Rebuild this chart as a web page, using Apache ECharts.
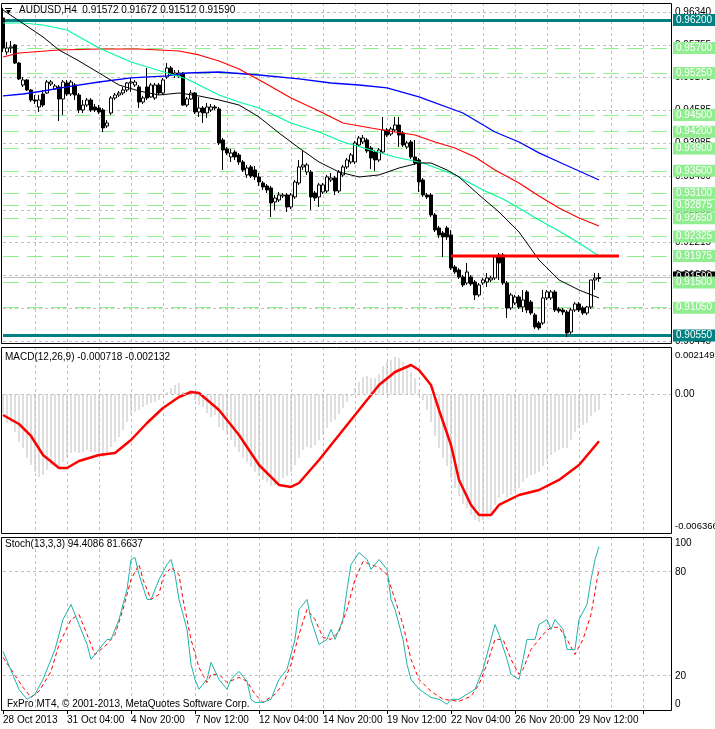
<!DOCTYPE html>
<html><head><meta charset="utf-8">
<script src="https://cdn.jsdelivr.net/npm/echarts@6.0.0/dist/echarts.min.js"></script>
<style>html,body{margin:0;padding:0;background:#fff;}#c{width:715px;height:729px;}</style>
</head><body><div id="c"></div>
<script>
const tickLabels = ['28 Oct 2013','31 Oct 04:00','4 Nov 20:00','7 Nov 12:00','12 Nov 04:00','14 Nov 20:00','19 Nov 12:00','22 Nov 04:00','26 Nov 20:00','29 Nov 12:00'];

const open = [0.96236,0.95627,0.95699,0.95753,0.95430,0.95036,0.95126,0.94947,0.94768,0.94643,
0.94875,0.94893,0.95054,0.94965,0.95001,0.94786,0.95072,0.94875,0.95036,0.94857,
0.94589,0.94678,0.94768,0.94643,0.94625,0.94589,0.94303,0.94535,0.94804,0.94857,
0.94893,0.94947,0.95072,0.95036,0.95001,0.94732,0.95001,0.94822,0.94804,0.95036,
0.94893,0.95180,0.95341,0.95215,0.95198,0.95251,0.94678,0.94786,0.94893,0.94553,
0.94625,0.94535,0.94589,0.94643,0.94607,0.94052,0.93891,0.93748,0.93837,0.93784,
0.93658,0.93426,0.93569,0.93515,0.93390,0.93282,0.93229,0.93193,0.92942,0.92978,
0.93050,0.93068,0.92853,0.93032,0.93282,0.93569,0.93479,0.93479,0.93103,0.93032,
0.93121,0.93139,0.93336,0.93372,0.93139,0.93426,0.93569,0.93658,0.93658,0.93962,
0.94016,0.94052,0.93909,0.93837,0.93694,0.93837,0.94231,0.94159,0.94231,0.94320,
0.94177,0.93927,0.94016,0.93748,0.93694,0.93336,0.93068,0.93068,0.92710,0.92477,
0.92387,0.92477,0.92352,0.91779,0.91725,0.91600,0.91493,0.91600,0.91510,0.91278,
0.91493,0.91510,0.91546,0.91582,0.91993,0.91993,0.91493,0.91045,0.91134,0.91242,
0.91063,0.91332,0.91152,0.90920,0.90776,0.90776,0.91224,0.91224,0.91332,0.91027,
0.91009,0.90973,0.90615,0.91009,0.91117,0.91045,0.90955,0.91063,0.91546,0.91572];
const high = [0.96415,0.95806,0.95824,0.95770,0.95448,0.95180,0.95144,0.94965,0.94857,0.94857,
0.94947,0.95126,0.95126,0.95054,0.95036,0.95126,0.95126,0.95126,0.95072,0.94893,
0.94768,0.94804,0.94804,0.94696,0.94678,0.94625,0.94410,0.94840,0.94893,0.94929,
0.95001,0.95090,0.95162,0.95126,0.95036,0.94840,0.95341,0.95072,0.95072,0.95072,
0.95162,0.95430,0.95377,0.95305,0.95305,0.95269,0.94822,0.94947,0.94911,0.94822,
0.94661,0.94714,0.94696,0.94678,0.94643,0.94088,0.93927,0.93891,0.93873,0.93819,
0.93694,0.93605,0.93605,0.93587,0.93461,0.93318,0.93264,0.93229,0.93068,0.93121,
0.93103,0.93103,0.93103,0.93336,0.93694,0.93855,0.93640,0.93515,0.93139,0.93282,
0.93282,0.93426,0.93461,0.93408,0.93515,0.93605,0.93730,0.93819,0.94034,0.94124,
0.94141,0.94088,0.93945,0.93873,0.93909,0.94464,0.94267,0.94285,0.94464,0.94464,
0.94213,0.94034,0.94052,0.94052,0.93730,0.93372,0.93103,0.93103,0.92745,0.92513,
0.92423,0.92513,0.92441,0.91815,0.91761,0.91636,0.91850,0.91636,0.91546,0.91493,
0.91582,0.91671,0.91618,0.91993,0.92029,0.92029,0.91528,0.91314,0.91278,0.91278,
0.91367,0.91367,0.91188,0.90955,0.90812,0.91367,0.91367,0.91367,0.91367,0.91063,
0.91045,0.91009,0.91045,0.91152,0.91152,0.91081,0.91081,0.91546,0.91671,0.91672];
const low = [0.95627,0.95574,0.95609,0.95412,0.95126,0.95001,0.94929,0.94732,0.94696,0.94553,
0.94643,0.94875,0.95019,0.94947,0.94392,0.94500,0.94840,0.94840,0.94768,0.94535,
0.94535,0.94643,0.94553,0.94553,0.94517,0.94195,0.94267,0.94500,0.94768,0.94822,
0.94857,0.94911,0.94911,0.95001,0.94625,0.94696,0.94768,0.94804,0.94768,0.94857,
0.94857,0.95144,0.95198,0.95162,0.95162,0.94661,0.94643,0.94768,0.94517,0.94464,
0.94356,0.94446,0.94553,0.94589,0.93962,0.93515,0.93784,0.93658,0.93694,0.93605,
0.93479,0.93372,0.93372,0.93336,0.93229,0.93157,0.93103,0.92674,0.92799,0.92942,
0.93014,0.92763,0.92817,0.92996,0.93247,0.93515,0.93426,0.92799,0.92960,0.92853,
0.93085,0.93103,0.93300,0.93068,0.93103,0.93390,0.93533,0.93622,0.93622,0.93927,
0.93980,0.93819,0.93533,0.93497,0.93658,0.93801,0.94106,0.94124,0.94195,0.93927,
0.93927,0.93891,0.93712,0.93605,0.93121,0.93032,0.92996,0.92674,0.92405,0.92298,
0.91958,0.92262,0.91725,0.91653,0.91564,0.91421,0.91457,0.91439,0.91188,0.91242,
0.91457,0.91421,0.91510,0.91546,0.91546,0.91457,0.90866,0.91009,0.91099,0.91027,
0.90973,0.90955,0.90920,0.90669,0.90651,0.90741,0.91188,0.91188,0.90973,0.90955,
0.90920,0.90525,0.90579,0.90973,0.90973,0.90920,0.90920,0.91027,0.91367,0.91512];
const close = [0.95699,0.95699,0.95717,0.95430,0.95144,0.95126,0.94947,0.94768,0.94750,0.94768,
0.94678,0.95090,0.95090,0.95019,0.94786,0.95090,0.94875,0.95090,0.94857,0.94589,
0.94678,0.94768,0.94589,0.94589,0.94553,0.94267,0.94356,0.94804,0.94857,0.94893,
0.94947,0.95072,0.95090,0.95090,0.94732,0.94804,0.94804,0.95036,0.95036,0.94893,
0.95126,0.95341,0.95233,0.95251,0.95251,0.94678,0.94786,0.94893,0.94553,0.94625,
0.94535,0.94643,0.94643,0.94625,0.93998,0.93873,0.93819,0.93819,0.93748,0.93658,
0.93515,0.93551,0.93408,0.93390,0.93300,0.93211,0.93157,0.92924,0.93014,0.93068,
0.93068,0.92853,0.93068,0.93300,0.93569,0.93605,0.93605,0.93032,0.93014,0.93247,
0.93247,0.93390,0.93372,0.93139,0.93479,0.93569,0.93694,0.93784,0.93998,0.94088,
0.94088,0.93855,0.93730,0.93694,0.93873,0.94231,0.94141,0.94249,0.94320,0.94141,
0.93962,0.93998,0.93748,0.93640,0.93300,0.93068,0.93032,0.92710,0.92441,0.92352,
0.92316,0.92316,0.91761,0.91689,0.91600,0.91457,0.91689,0.91475,0.91278,0.91457,
0.91546,0.91582,0.91582,0.91958,0.91850,0.91493,0.91045,0.91278,0.91242,0.91063,
0.91188,0.91009,0.90955,0.90705,0.90687,0.91224,0.91332,0.91332,0.91009,0.90991,
0.90973,0.90597,0.91009,0.91117,0.91009,0.90955,0.91063,0.91546,0.91582,0.91590];

// moving averages: [bar index, price]
const maBlack = [[0,0.96379],[5,0.96137],[10,0.95896],[14,0.95663],[19,0.95466],[24,0.95251],[29,0.95036],[34,0.94929],[39,0.94857],[44,0.94893],[49,0.94840],[54,0.94768],[59,0.94678],[64,0.94464],[69,0.94177],[74,0.93909],[79,0.93658],[84,0.93479],[89,0.93390],[94,0.93426],[99,0.93551],[104,0.93640],[107,0.93640],[111,0.93515],[114,0.93390],[119,0.93068],[124,0.92763],[129,0.92405],[134,0.91904],[139,0.91546],[144,0.91367],[149,0.91224]];
const maGreen = [[0,0.96146],[5,0.96146],[10,0.96110],[16,0.96021],[24,0.95699],[32,0.95448],[41,0.95251],[46,0.95144],[49,0.95036],[54,0.94857],[59,0.94732],[64,0.94625],[72,0.94356],[79,0.94195],[85,0.94016],[92,0.93873],[98,0.93748],[105,0.93640],[113,0.93426],[120,0.93157],[125,0.92996],[129,0.92835],[134,0.92620],[139,0.92423],[144,0.92208],[149,0.91976]];
const maRed = [[0,0.95538],[4,0.95609],[14,0.95663],[24,0.95681],[34,0.95681],[44,0.95645],[49,0.95574],[54,0.95466],[59,0.95323],[65,0.95090],[72,0.94804],[79,0.94571],[85,0.94356],[92,0.94267],[98,0.94195],[103,0.94141],[108,0.94016],[113,0.93909],[118,0.93748],[123,0.93515],[129,0.93282],[134,0.93050],[139,0.92835],[144,0.92656],[149,0.92513]];
const maBlue = [[0,0.94840],[5,0.94875],[10,0.94929],[16,0.95001],[24,0.95090],[32,0.95162],[41,0.95198],[46,0.95251],[54,0.95269],[64,0.95215],[74,0.95144],[82,0.95072],[89,0.95036],[96,0.94983],[104,0.94822],[106,0.94768],[115,0.94535],[123,0.94195],[129,0.94016],[134,0.93820],[139,0.93658],[144,0.93497],[149,0.93336]];

const priceTicks = [0.96340,0.95755,0.95170,0.94585,0.93985,0.93400,0.92800,0.92215,0.91630,0.91040,0.90445];
const greenLevels = [0.957,0.9525,0.945,0.942,0.939,0.935,0.931,0.92875,0.9265,0.92325,0.91975,0.915,0.9105];
const tealLevels = [0.962,0.9055];
const resistance = 0.91975;
const resistanceFrom = 112, resistanceTo = 154;
const lastPrice = 0.91590;

const macdHist = [-0.000850,-0.001304,-0.001304,-0.001713,-0.002167,-0.002440,-0.002894,-0.003212,-0.003530,-0.003757,
-0.003666,-0.003439,-0.003212,-0.003121,-0.003303,-0.003076,-0.002894,-0.002667,-0.002621,-0.002667,
-0.002621,-0.002530,-0.002621,-0.002621,-0.002667,-0.002848,-0.002667,-0.002394,-0.002167,-0.001940,
-0.001622,-0.001258,-0.000940,-0.000804,-0.000713,-0.000577,-0.000486,-0.000395,-0.000350,-0.000259,
-0.000032,0.000104,0.000286,0.000422,0.000513,0.000104,0.000010,-0.000020,-0.000259,-0.000486,
-0.000577,-0.000850,-0.001031,-0.000940,-0.001486,-0.001622,-0.001849,-0.002076,-0.002394,-0.002621,
-0.002894,-0.003076,-0.003303,-0.003530,-0.003712,-0.003893,-0.003984,-0.004166,-0.004120,-0.003984,
-0.003802,-0.003712,-0.003530,-0.003212,-0.002894,-0.002530,-0.002394,-0.002440,-0.002303,-0.002076,
-0.001849,-0.001531,-0.001258,-0.001168,-0.000895,-0.000622,-0.000350,-0.000077,0.000286,0.000559,
0.000786,0.000831,0.000741,0.000741,0.000922,0.001286,0.001467,0.001558,0.001695,0.001649,
0.001467,0.001286,0.001013,0.000741,0.000195,-0.000259,-0.000713,-0.001258,-0.001894,-0.002440,
-0.002894,-0.003257,-0.003802,-0.004257,-0.004620,-0.004984,-0.005165,-0.005483,-0.005711,-0.005801,
-0.005711,-0.005620,-0.005483,-0.005029,-0.004711,-0.004529,-0.004711,-0.004575,-0.004438,-0.004257,
-0.003984,-0.003802,-0.003666,-0.003621,-0.003530,-0.003257,-0.002985,-0.002758,-0.002621,-0.002530,
-0.002440,-0.002440,-0.002076,-0.001713,-0.001531,-0.001395,-0.001304,-0.000985,-0.000804,-0.000718];
const macdSignal = [[0,-0.000940],[4,-0.001349],[7,-0.001894],[10,-0.002758],[14,-0.003348],[16,-0.003348],[19,-0.003030],[24,-0.002758],[28,-0.002667],[32,-0.002076],[36,-0.001304],[40,-0.000622],[44,-0.000123],[47,0.000104],[49,0.000059],[54,-0.000713],[59,-0.001849],[64,-0.003212],[69,-0.004120],[72,-0.004211],[74,-0.004030],[79,-0.002985],[84,-0.001849],[89,-0.000713],[94,0.000422],[98,0.001013],[102,0.001331],[104,0.001104],[107,0.000422],[109,-0.000713],[112,-0.002303],[114,-0.003893],[117,-0.005029],[119,-0.005483],[122,-0.005483],[124,-0.005029],[129,-0.004575],[134,-0.004348],[139,-0.003893],[144,-0.003212],[149,-0.002132]];

const stochMain = [[0,33.9],[4,11.9],[6,6.2],[8,9.1],[10,17.7],[13,35.0],[15,52.3],[17,61.0],[19,49.4],[21,37.9],[22,29.3],[24,35.0],[26,40.8],[27,40.8],[29,52.3],[31,69.6],[32,87.0],[33,88.1],[34,78.3],[36,63.9],[37,63.9],[39,75.4],[41,84.1],[42,87.0],[43,78.3],[44,63.9],[46,46.6],[47,26.4],[48,17.7],[49,12.0],[51,17.7],[52,27.5],[54,17.7],[56,12.0],[57,17.7],[59,22.3],[61,16.6],[62,6.2],[63,4.4],[65,4.4],[67,6.2],[68,12.0],[69,17.7],[71,23.5],[73,40.8],[74,58.1],[76,63.9],[77,52.3],[79,37.9],[81,40.8],[82,46.6],[83,40.8],[85,52.3],[86,69.6],[87,84.1],[89,91.0],[91,87.0],[92,81.2],[94,87.0],[96,81.2],[97,63.9],[98,58.1],[100,40.8],[101,26.4],[102,17.7],[104,12.0],[107,7.3],[109,6.2],[111,3.3],[112,6.2],[114,6.2],[116,9.1],[118,12.0],[120,23.5],[122,40.8],[123,49.4],[124,43.7],[126,29.3],[127,20.6],[129,17.7],[130,29.3],[131,40.8],[133,40.8],[134,49.4],[136,52.3],[137,46.6],[138,52.3],[140,46.6],[141,35.0],[143,35.0],[144,52.3],[146,61.0],[147,75.4],[148,87.0],[149,94.4086]];
const stochSignal = [[0,30.4],[5,13.1],[7,7.3],[9,10.8],[12,22.3],[14,37.9],[17,52.3],[19,55.2],[21,43.7],[23,32.1],[26,37.9],[28,43.7],[30,58.1],[32,75.4],[34,84.1],[35,75.4],[37,63.9],[39,66.8],[40,76.6],[42,82.4],[44,78.3],[45,63.9],[47,40.8],[49,24.6],[51,15.9],[52,20.6],[54,20.6],[56,15.9],[59,18.8],[61,16.6],[63,9.1],[65,4.4],[68,9.1],[70,14.8],[72,26.4],[74,43.7],[76,58.1],[78,52.3],[80,41.9],[82,40.8],[84,45.4],[86,58.1],[88,75.4],[90,85.8],[92,84.1],[94,82.4],[96,78.3],[98,63.9],[100,49.4],[102,29.3],[104,17.7],[107,10.8],[110,6.2],[114,5.0],[117,7.9],[119,14.8],[121,26.4],[123,40.8],[125,40.8],[127,29.3],[129,20.6],[130,23.5],[132,35.0],[135,43.7],[137,47.8],[139,47.8],[141,40.8],[143,32.1],[145,40.8],[147,55.2],[148,68.4],[149,81.6637]];

const N = 168;
const cats = Array.from({length: N}, (_, i) => String(i));
const FF = '"Liberation Sans", Arial, sans-serif';
const GRAY = '#c0c0c0';

const chart = echarts.init(document.getElementById('c'), null, {renderer: 'canvas'});

function xAx(g) {
  return {
    type: 'category', gridIndex: g, data: cats, boundaryGap: false,
    axisLine: {show: false},
    axisTick: {show: g === 2, interval: (i) => i % 16 === 0, length: 4, lineStyle: {color: '#000'}},
    axisLabel: {show: g === 2, interval: (i) => i % 16 === 0, formatter: (v, i) => tickLabels[Math.round(i / 16)] || '',
      align: 'left', color: '#000', fontSize: 10, fontFamily: FF, margin: 5},
    splitLine: {show: true, interval: (i) => i > 0 && i % 8 === 0, lineStyle: {color: GRAY, type: [3, 3], width: 1}}
  };
}
function hLines(values, style, labelStyle) {
  return values.map(v => ({yAxis: v, lineStyle: style, label: Object.assign({show: !!labelStyle, formatter: v.toFixed(5)}, labelStyle || {})}));
}
function holder(xi, yi, z, markData) {
  return {type: 'line', xAxisIndex: xi, yAxisIndex: yi, data: [], symbol: 'none', silent: true, z: z,
    markLine: {silent: true, symbol: ['none', 'none'], precision: 6, animation: false, data: markData,
      label: {position: 'end', distance: 3, fontSize: 10, fontFamily: FF}}};
}
const boxLabel = (bg, fg) => ({position: 'end', distance: 2, backgroundColor: bg, color: fg, padding: [1, 3, 0, 3], lineHeight: 11, fontSize: 10, fontFamily: FF});

const candleData = open.map((o, i) => [o, close[i], low[i], high[i]]);
const font = '10px ' + FF;
const txt = (x, y, s) => ({type: 'text', x: x, y: y, style: {text: s, font: font, fill: '#000'}, z: 60, silent: true});

const option = {
  animation: false,
  backgroundColor: '#fff',
  grid: [
    {left: 3, width: 668, top: 3, height: 341},
    {left: 3, width: 668, top: 347, height: 187},
    {left: 3, width: 668, top: 537, height: 173}
  ],
  xAxis: [xAx(0), xAx(1), xAx(2)],
  yAxis: [
    {type: 'value', gridIndex: 0, min: 0.90400, max: 0.96504, show: false},
    {type: 'value', gridIndex: 1, min: -0.006347, max: 0.002149, show: false},
    {type: 'value', gridIndex: 2, min: 0, max: 100, show: false}
  ],
  series: [
    holder(0, 0, 1, hLines(priceTicks, {color: GRAY, type: [3, 3], width: 1}, {position: 'end', distance: 4, color: '#000', fontSize: 10, fontFamily: FF})),
    holder(0, 0, 2, hLines([lastPrice], {color: GRAY, type: 'solid', width: 1}, boxLabel('#000', '#fff'))),
    holder(0, 0, 3, hLines(greenLevels, {color: '#90EE90', type: [16, 8], width: 1}, boxLabel('#90EE90', '#fff'))),
    holder(0, 0, 4, hLines(tealLevels, {color: '#008080', type: 'solid', width: 3}, boxLabel('#008080', '#fff'))),
    {type: 'candlestick', xAxisIndex: 0, yAxisIndex: 0, data: candleData, barWidth: 3, z: 5,
      itemStyle: {color: '#ffffff', color0: '#000000', borderColor: '#000000', borderColor0: '#000000', borderColorDoji: '#000000', borderWidth: 1}},
    {type: 'line', xAxisIndex: 0, yAxisIndex: 0, data: maBlue, symbol: 'none', z: 6, lineStyle: {color: '#0000ff', width: 1.3}},
    {type: 'line', xAxisIndex: 0, yAxisIndex: 0, data: maRed, symbol: 'none', z: 6, lineStyle: {color: '#ff0000', width: 1.2}},
    {type: 'line', xAxisIndex: 0, yAxisIndex: 0, data: maGreen, symbol: 'none', z: 6, lineStyle: {color: '#00fa9a', width: 1.2}},
    {type: 'line', xAxisIndex: 0, yAxisIndex: 0, data: maBlack, symbol: 'none', z: 6, lineStyle: {color: '#000000', width: 1}},
    {type: 'line', xAxisIndex: 0, yAxisIndex: 0, data: [[resistanceFrom, resistance], [resistanceTo, resistance]], symbol: 'none', z: 7, lineStyle: {color: '#ff0000', width: 3}},
    // MACD
    holder(1, 1, 1, hLines([0], {color: GRAY, type: [3, 3], width: 1}, null)),
    {type: 'bar', xAxisIndex: 1, yAxisIndex: 1, data: macdHist, barWidth: 1, z: 2, itemStyle: {color: '#c0c0c0'}},
    {type: 'line', xAxisIndex: 1, yAxisIndex: 1, data: macdSignal, symbol: 'none', z: 3, lineStyle: {color: '#ff0000', width: 2.5}},
    // Stochastic
    holder(2, 2, 1, hLines([80, 20], {color: GRAY, type: [3, 3], width: 1}, null)),
    {type: 'line', xAxisIndex: 2, yAxisIndex: 2, data: stochSignal, symbol: 'none', z: 3, lineStyle: {color: '#ff0000', width: 1, type: [4, 3]}},
    {type: 'line', xAxisIndex: 2, yAxisIndex: 2, data: stochMain, symbol: 'none', z: 4, lineStyle: {color: '#20b2aa', width: 1}}
  ],
  graphic: [
    {type: 'rect', shape: {x: 1.5, y: 3.5, width: 670, height: 340}, style: {fill: 'none', stroke: '#000', lineWidth: 1}, z: 50, silent: true},
    {type: 'rect', shape: {x: 1.5, y: 347.5, width: 670, height: 186}, style: {fill: 'none', stroke: '#000', lineWidth: 1}, z: 50, silent: true},
    {type: 'rect', shape: {x: 1.5, y: 537.5, width: 670, height: 173}, style: {fill: 'none', stroke: '#000', lineWidth: 1}, z: 50, silent: true},
    {type: 'polyline', shape: {points: [[5, 8.5], [12, 8.5]]}, style: {stroke: '#000', lineWidth: 1}, z: 60},
    {type: 'polygon', shape: {points: [[6, 10], [11, 10], [8.5, 14]]}, style: {fill: '#000'}, z: 60},
    txt(19, 5, 'AUDUSD,H4  0.91572 0.91672 0.91512 0.91590'),
    txt(5, 352, 'MACD(12,26,9) -0.000718 -0.002132'),
    txt(5, 539, 'Stoch(13,3,3) 94.4086 81.6637'),
    txt(7, 699, 'FxPro MT4, © 2001-2013, MetaQuotes Software Corp.'),
    {type: 'text', x: 675, y: 350, style: {text: '0.002149', font: '9.5px ' + FF, fill: '#000'}, z: 60, silent: true},
    txt(675, 389, '0.00'),
    {type: 'text', x: 675, y: 521, style: {text: '-0.006366', font: '9.5px ' + FF, fill: '#000'}, z: 60, silent: true},
    txt(675, 538, '100'),
    txt(675, 567, '80'),
    txt(675, 671, '20'),
    txt(675, 699, '0')
  ]
};
chart.setOption(option);
</script>
</body></html>
